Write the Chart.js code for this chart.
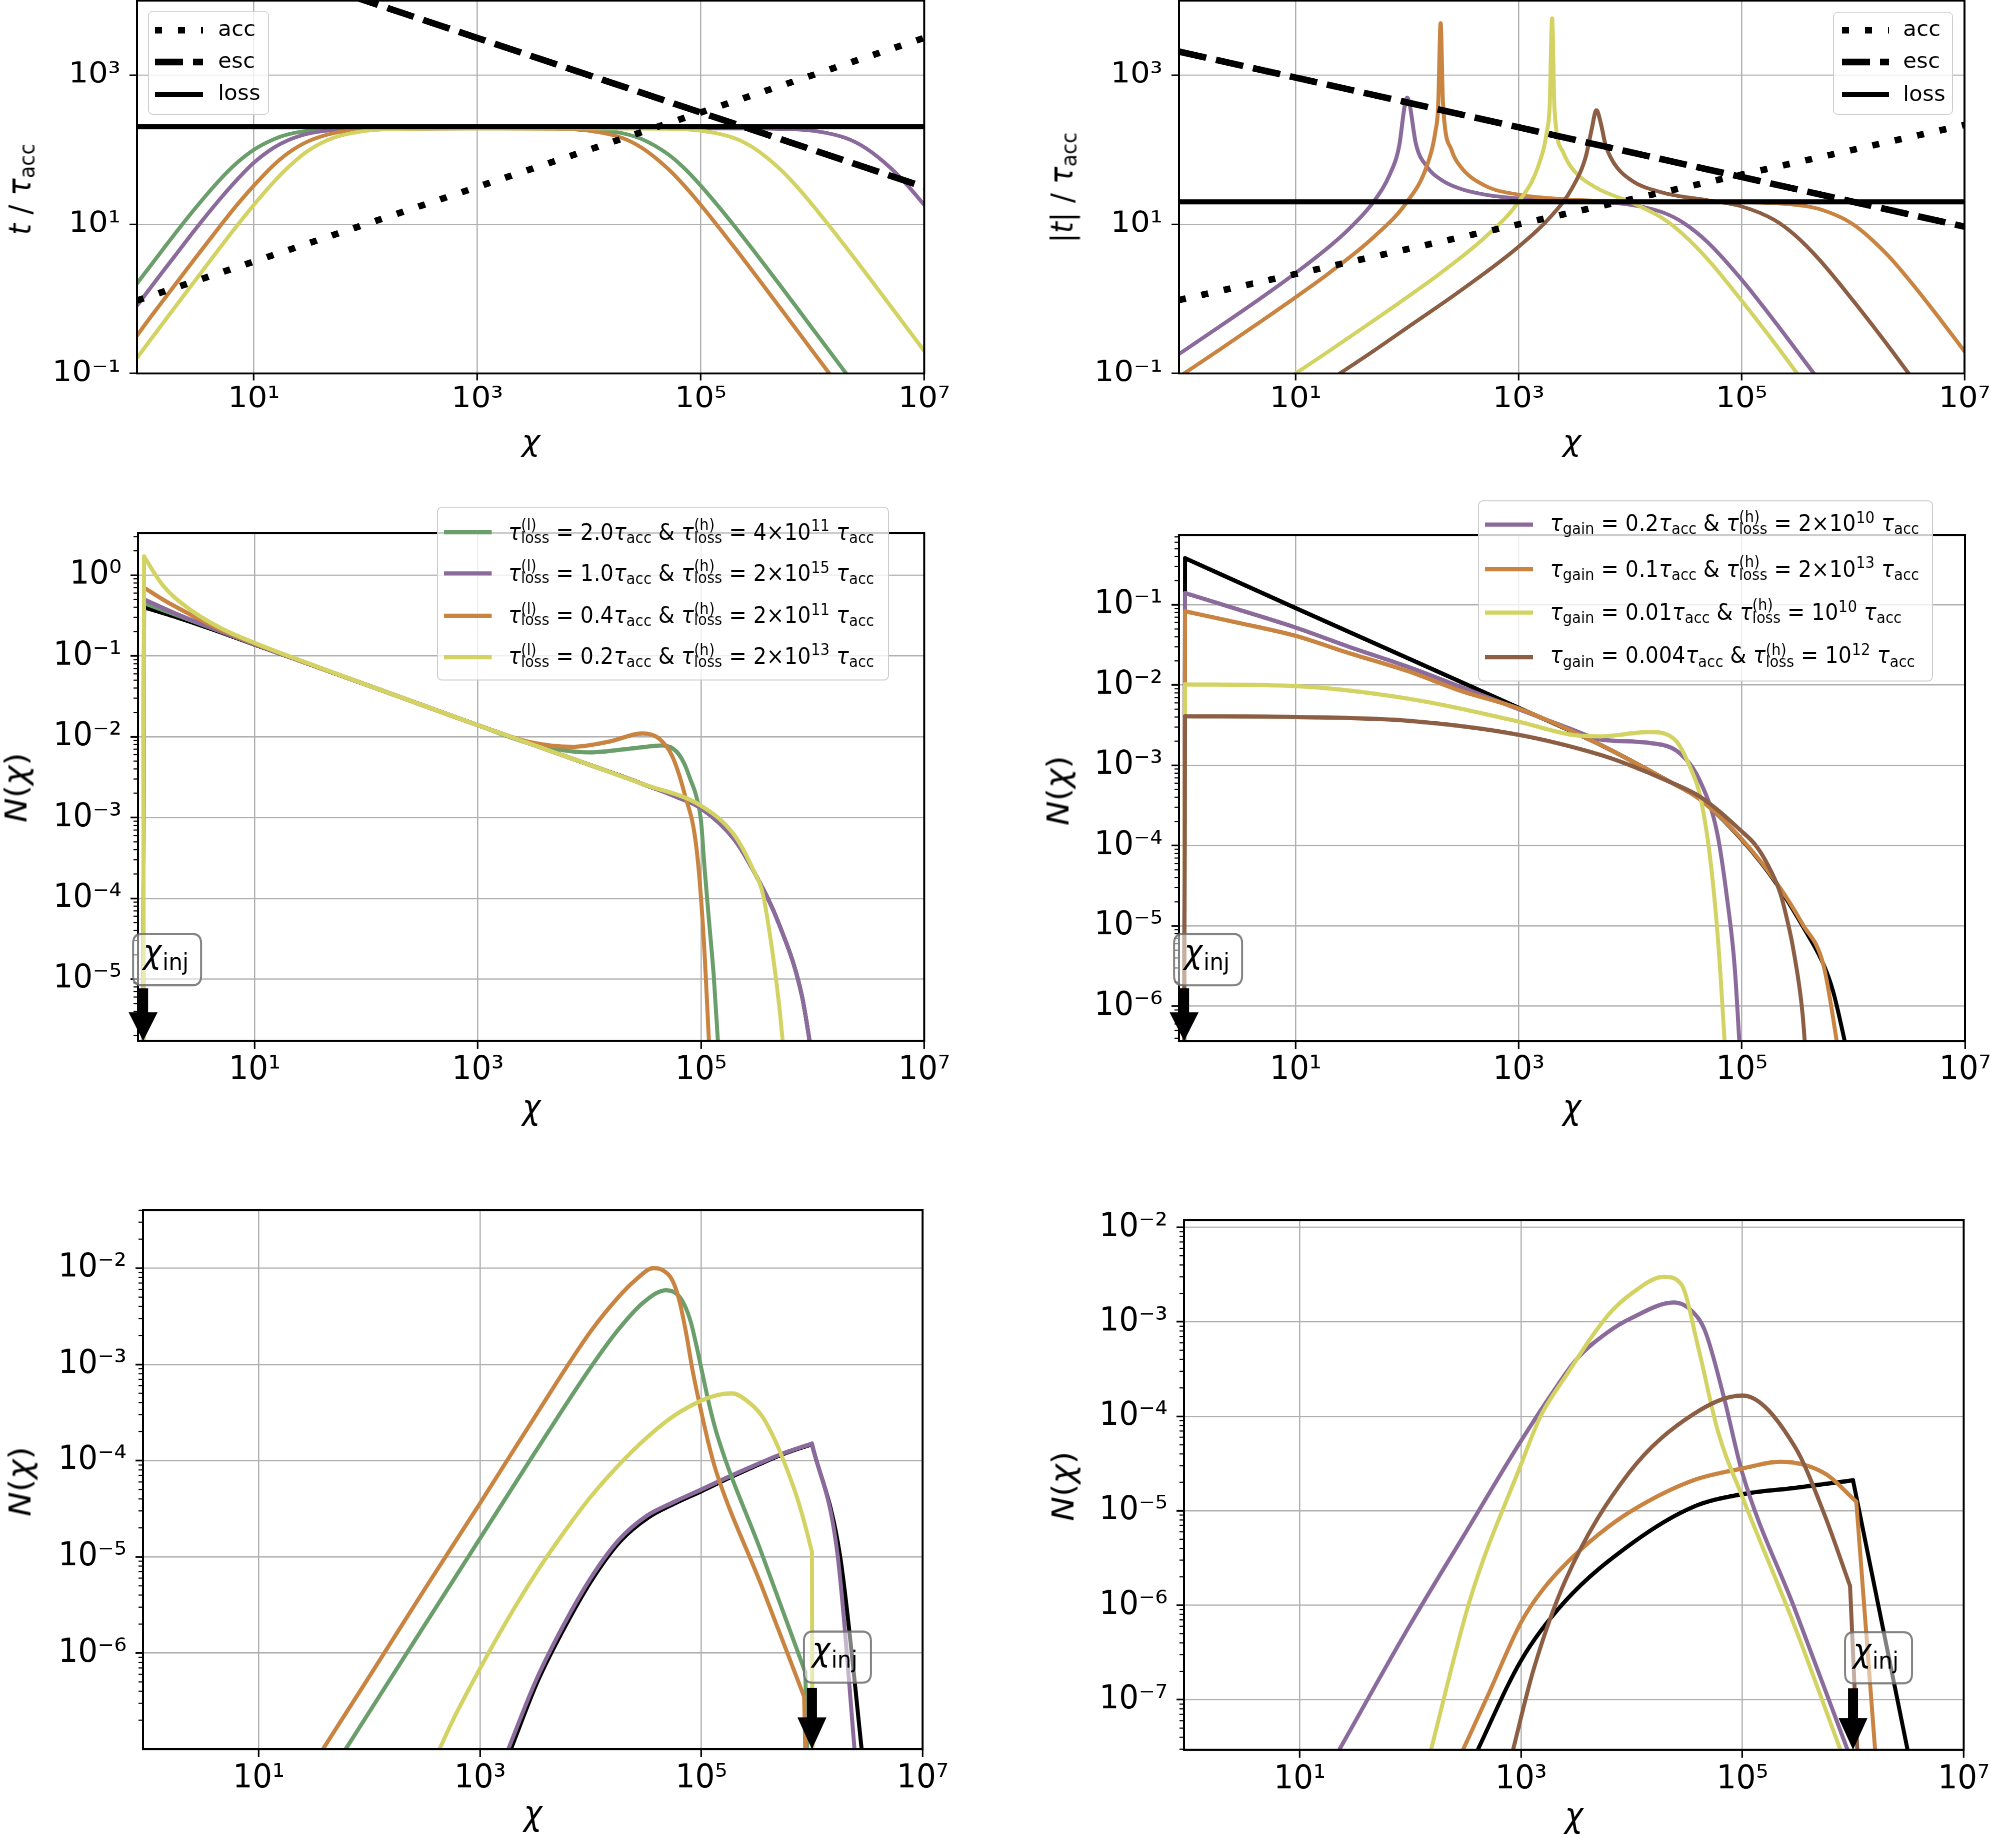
<!DOCTYPE html>
<html lang="en">
<head>
<meta charset="UTF-8">
<title>Timescales and spectra N(χ)</title>
<script src="https://cdn.jsdelivr.net/npm/chart.js@4"></script>
<style>
  html, body { margin: 0; padding: 0; background: #fff; }
  body { position: relative; width: 1991px; height: 1835px; overflow: hidden; font-family: "DejaVu Sans", sans-serif; color: #000; }
  .panel { position: absolute; transform-origin: 0 0; }
  .panel canvas { position: absolute; left: 0; top: 0; }
  .lbl { position: absolute; white-space: nowrap; line-height: 1; }
  .rot { transform: translate(-50%, -50%) rotate(-90deg); }
  .leg { position: absolute; box-sizing: border-box; background: rgba(255,255,255,0.8); border: 1.3px solid #cccccc; border-radius: 5px; }
  .sb { font-size: .7em; line-height: 0; vertical-align: -.2em; }
  .su { font-size: .7em; line-height: 0; vertical-align: .52em; }
  .ss { position: relative; display: inline-block; font-size: .7em; line-height: 0; vertical-align: -.2em; }
  .ss .sp { position: absolute; left: 0; top: -1.27em; line-height: 1; }
</style>
</head>
<body>
<script>
// ---- axes ----
const X_MIN = 0.9, X_MAX = 1e7;
const X_TICKS = [1e1, 1e3, 1e5, 1e7];
const TOP_Y_TICKS = [1e-1, 1e1, 1e3];
const C_Y_TICKS = [1e-5, 1e-4, 1e-3, 1e-2, 1e-1, 1];
const D_Y_TICKS = [1e-6, 1e-5, 1e-4, 1e-3, 1e-2, 1e-1];
const E_Y_TICKS = [1e-6, 1e-5, 1e-4, 1e-3, 1e-2];
const F_Y_TICKS = [1e-7, 1e-6, 1e-5, 1e-4, 1e-3, 1e-2];

// ---- panel a: t / tau_acc ----
const a_acc  = [[0.9, 0.95], [1e7, 3162]];
const a_esc  = [[0.9, 1.05e5], [1e7, 31.6]];
const a_loss = [[0.9, 204], [1e7, 204]];
const a_green  = [[0.9,1.61],[1,1.98],[1.5,4.4],[2,7.7],[3,16.5],[5,40],[7,66],[10,100],[15,138],[20,160],[30,179],[50,189],[100,192],[1e3,193],[5e3,192],[1e4,187],[2e4,166],[3e4,138],[5e4,89],[7e4,58],[1e5,33],[2e5,9.5],[5e5,1.6],[1e6,0.4],[2e6,0.1],[3e6,0.044]];
const a_purple = [[0.9,0.81],[1,1.0],[1.5,2.23],[2,3.9],[3,8.6],[5,22],[7,39],[10,67],[15,106],[20,133],[30,163],[50,183],[100,191],[1e3,193],[1e5,193],[3e5,192],[5e5,190],[1e6,180],[2e6,143],[3e6,105],[5e6,57],[7e6,34],[1e7,18.2]];
const a_orange = [[0.9,0.32],[1,0.4],[1.5,0.9],[2,1.59],[3,3.54],[5,9.5],[7,17.9],[10,33],[15,62],[20,89],[30,128],[50,165],[100,187],[200,191],[1e3,193],[5e3,191],[1e4,180],[2e4,143],[3e4,105],[5e4,57],[7e4,34],[1e5,18.2],[2e5,4.9],[5e5,0.8],[1e6,0.2],[1.5e6,0.089]];
const a_yellow = [[0.9,0.162],[1,0.2],[1.5,0.45],[2,0.8],[3,1.78],[5,4.9],[7,9.4],[10,18.2],[15,36.7],[20,57],[30,95],[50,142],[100,179],[200,190],[500,192],[1e4,193],[5e4,191],[1e5,180],[2e5,143],[3e5,105],[5e5,57],[7e5,34],[1e6,18.2],[2e6,4.9],[5e6,0.8],[1e7,0.2]];

// ---- panel b: |t| / tau_acc ----
const b_acc  = [[0.9, 0.965], [1e7, 215]];
const b_esc  = [[0.9, 2070], [1e7, 9.3]];
const b_loss = [[0.9, 20], [1e7, 20]];
const b_purple = [[0.9,0.182],[1,0.202],[2,0.408],[5,1.05],[10,2.22],[20,5],[30,8.6],[50,20],[70,46.7],[85,113],[95,380],[100,500],[105,420],[120,120],[150,60],[200,40],[300,30],[500,25],[1e3,22.2],[3e3,20.5],[1e4,18.3],[2e4,14.3],[3e4,10.5],[5e4,5.7],[1e5,1.82],[2e5,0.49],[4.5e5,0.098],[5e5,0.08]];
const b_orange = [[0.9,0.09],[1,0.1],[2,0.2],[5,0.51],[10,1.05],[20,2.22],[50,6.7],[100,20],[150,60],[180,180],[190,380],[200,5000],[210,420],[250,100],[300,60],[500,33],[1e3,25],[3e3,21.4],[1e4,20.4],[1e5,19.8],[3e5,18.3],[5e5,16],[1e6,10],[2e6,4],[3e6,2],[5e6,0.77],[1e7,0.198]];
const b_yellow = [[9,0.09],[10,0.1],[20,0.2],[50,0.51],[100,1.05],[200,2.22],[500,6.7],[1e3,20],[1.5e3,60],[1.8e3,180],[1.9e3,380],[2e3,5800],[2.1e3,355],[2.5e3,94],[3e3,57],[5e3,30.8],[1e4,20],[2e4,11.8],[3e4,7.3],[5e4,3.36],[1e5,0.95],[2e5,0.25],[3.2e5,0.097]];
const b_brown  = [[24,0.096],[50,0.2],[100,0.41],[300,1.28],[1e3,5],[2e3,13.3],[3e3,30],[4e3,80],[4.5e3,180],[5e3,340],[5.5e3,218],[6e3,119],[7e3,70],[1e4,40],[2e4,26.4],[5e4,21],[1e5,17.4],[2e5,11.3],[3e5,7.2],[5e5,3.34],[1e6,0.95],[2e6,0.25],[3.2e6,0.097]];

// ---- panel c: N(chi), injection at chi = 1 ----
const c_black  = [[1,1e-6],[1.02,0.4],[2,0.3],[5,0.195],[10,0.138],[100,0.044],[1e3,0.0139],[1e4,0.0045],[3e4,0.0026],[1e5,0.0013],[2e5,5.3e-4],[3e5,2.1e-4],[5e5,4.8e-5],[8e5,6.3e-6],[1e6,1e-6]];
const c_green  = [[1,1e-6],[1.02,0.45],[2,0.32],[5,0.2],[10,0.14],[100,0.044],[1e3,0.0139],[3e3,0.0082],[1e4,0.0064],[2.5e4,0.0072],[4.5e4,0.0078],[6e4,0.0066],[7.1e4,0.0046],[8e4,0.003],[9.1e4,0.0018],[1e5,9e-4],[1.08e5,2.2e-4],[1.2e5,4e-5],[1.3e5,1.1e-5],[1.45e5,1e-6]];
const c_purple = [[1,1e-6],[1.02,0.5],[2,0.33],[5,0.2],[10,0.139],[100,0.044],[1e3,0.0139],[1e4,0.0045],[3e4,0.0026],[6e4,0.0018],[1e5,0.0013],[2e5,5.3e-4],[3e5,2.1e-4],[5e5,4.8e-5],[8e5,6.3e-6],[1e6,1e-6]];
const c_orange = [[1,1e-6],[1.02,0.7],[1.5,0.5],[2.6,0.33],[5,0.21],[10,0.142],[100,0.044],[1e3,0.0139],[3e3,0.0085],[7e3,0.0075],[1.5e4,0.0087],[3e4,0.011],[4.2e4,0.0095],[5.5e4,0.0058],[7.1e4,0.002],[9.1e4,4.2e-4],[1.05e5,3.7e-5],[1.2e5,1e-6]];
const c_yellow = [[1,1e-6],[1.02,1.7],[1.5,0.75],[2.6,0.38],[5,0.22],[10,0.145],[20,0.1],[100,0.044],[1e3,0.0139],[1e4,0.0045],[3e4,0.0026],[1e5,0.0014],[2e5,6e-4],[2.96e5,2.2e-4],[3.6e5,1.1e-4],[4.4e5,2e-5],[5e5,4.9e-6],[5.6e5,1e-6]];

// ---- panel d: N(chi), gain models ----
const d_black  = [[1,1e-7],[1.02,0.38],[10,0.091],[100,0.0218],[1e3,0.0052],[5.4e3,1.8e-3],[2.1e4,6.6e-4],[4.3e4,3.7e-4],[1e5,1.18e-4],[2e5,3.5e-5],[3.5e5,1e-5],[5.4e5,3.3e-6],[6.6e5,1.5e-6],[9.2e5,2e-7]];
const d_purple = [[1,1e-7],[1.02,0.14],[3,0.088],[10,0.052],[30,0.03],[100,0.017],[300,0.0095],[1e3,0.005],[3e3,0.0028],[5.4e3,0.0021],[1.5e4,0.0019],[2.8e4,0.0014],[4.3e4,6e-4],[6e4,1.45e-4],[7.4e4,2.1e-5],[8.6e4,3.2e-6],[1e5,1e-7]];
const d_orange = [[1,1e-7],[1.02,0.083],[3,0.06],[10,0.041],[30,0.025],[100,0.015],[300,0.0085],[1e3,0.0051],[5.4e3,1.8e-3],[2.1e4,6.6e-4],[4.3e4,3.7e-4],[1e5,1.2e-4],[2e5,3.6e-5],[3.5e5,1.05e-5],[5.4e5,3.2e-6],[7.6e5,2e-7]];
const d_yellow = [[1,1e-7],[1.02,0.0102],[10,0.0097],[100,0.0068],[1e3,0.0035],[3e3,0.0024],[5.4e3,0.0023],[1.5e4,0.0026],[2.5e4,0.0021],[3.4e4,9.8e-4],[4.3e4,3.7e-4],[5.3e4,5.5e-5],[6.2e4,5.1e-6],[7.4e4,1e-7]];
const d_brown  = [[1,1e-7],[1.02,0.0041],[10,0.004],[100,0.0036],[1e3,0.0024],[5.4e3,1.35e-3],[1e4,1.0e-3],[2.1e4,6.5e-4],[4.3e4,4e-4],[1e5,1.5e-4],[1.3e5,1.05e-4],[1.66e5,6.2e-5],[2.2e5,2.6e-5],[2.6e5,1.05e-5],[2.9e5,5e-6],[3.5e5,8e-7],[3.9e5,1e-7]];

// ---- panel e: N(chi), injection at chi = 1e6 ----
const e_black  = [[1.9e3,1e-7],[3.3e3,5e-7],[5.9e3,1.9e-6],[1.05e4,6e-6],[1.85e4,1.45e-5],[3.3e4,2.55e-5],[5.8e4,3.6e-5],[1e5,4.8e-5],[1.78e5,6.6e-5],[3.16e5,8.9e-5],[5.62e5,1.18e-4],[1e6,1.48e-4],[1.8e6,1e-5],[3e6,5e-8]];
const e_green  = [[61,1e-7],[316,1.95e-6],[1e3,1.55e-5],[3.16e3,1.23e-4],[1e4,9.3e-4],[1.78e4,2.3e-3],[3e4,4.4e-3],[4.8e4,5.9e-3],[6e4,5.4e-3],[7e4,4.2e-3],[8e4,2.8e-3],[9e4,1.6e-3],[1e5,9.1e-4],[1.2e5,3.5e-4],[1.4e5,1.8e-4],[3.5e5,1.1e-5],[8.7e5,6.3e-7],[9.2e5,5e-8]];
const e_purple = [[1.8e3,1e-7],[3.16e3,5e-7],[5.62e3,1.9e-6],[1e4,6e-6],[1.78e4,1.48e-5],[3.16e4,2.63e-5],[5.62e4,3.7e-5],[1e5,5e-5],[1.78e5,6.8e-5],[3.16e5,9.1e-5],[5.62e5,1.2e-4],[1e6,1.5e-4],[1.7e6,1.07e-5],[2.55e6,5e-8]];
const e_orange = [[38,1e-7],[100,5.7e-7],[316,4.6e-6],[1e3,3.6e-5],[3.16e3,2.9e-4],[1e4,2.2e-3],[1.78e4,5e-3],[2.5e4,7.4e-3],[3.7e4,0.01],[4.5e4,9.5e-3],[5.5e4,7.4e-3],[6.3e4,4.7e-3],[7.3e4,2.1e-3],[8.3e4,8.9e-4],[1e5,3.2e-4],[1.2e5,1.3e-4],[1.4e5,7e-5],[3.5e5,5e-6],[8.5e5,3.5e-7],[8.8e5,5e-8]];
const e_yellow = [[430,1e-7],[562,1.95e-7],[1e3,6.9e-7],[1778,2.24e-6],[3162,6.6e-6],[5623,1.74e-5],[1e4,4.2e-5],[1.78e4,8.9e-5],[3.16e4,1.7e-4],[5.62e4,2.9e-4],[1e5,4.2e-4],[1.41e5,4.8e-4],[1.9e5,5e-4],[2.5e5,4.3e-4],[3.5e5,2.95e-4],[4.6e5,1.66e-4],[5.9e5,8.3e-5],[7.4e5,4e-5],[8.7e5,2.1e-5],[1e6,1.12e-5],[1.01e6,5e-8]];

// ---- panel f: N(chi), gain models, injection at chi = 1e6 ----
const f_black  = [[380,2.5e-8],[1e3,2.6e-7],[2.5e3,1.1e-6],[1e4,4.5e-6],[3.6e4,1.1e-5],[1e5,1.5e-5],[3e5,1.75e-5],[1e6,2.1e-5],[3.2e6,2.5e-8]];
const f_purple = [[21,2.5e-8],[100,6.3e-7],[316,5.9e-6],[1e3,5.5e-5],[2e3,1.9e-4],[3.16e3,4e-4],[6.2e3,7.9e-4],[1e4,1.1e-3],[2.4e4,1.6e-3],[3.5e4,1.3e-3],[4.6e4,8e-4],[6.8e4,1.6e-4],[1e5,2.5e-5],[3e5,8.9e-7],[9.4e5,2.5e-8]];
const f_orange = [[280,2.5e-8],[500,1.1e-7],[1e3,6.6e-7],[1.6e3,1.5e-6],[2.5e3,2.7e-6],[5e3,5.6e-6],[1e4,1e-5],[3.6e4,2.1e-5],[1e5,2.8e-5],[2.2e5,3.3e-5],[5.5e5,2.5e-5],[1.07e6,1.25e-5],[1.6e6,2.5e-8]];
const f_yellow = [[148,2.5e-8],[350,1.2e-6],[1e3,3.1e-5],[1.5e3,1e-4],[2.5e3,2.6e-4],[6.2e3,1.2e-3],[1e4,2e-3],[1.95e4,3e-3],[2.8e4,2.5e-3],[4e4,5.3e-4],[6e4,7e-5],[1e5,1.4e-5],[3e5,5.8e-7],[8.1e5,2.5e-8]];
const f_brown  = [[817,2.5e-8],[1.3e3,2.1e-7],[2.5e3,1.8e-6],[9.4e3,2.5e-5],[3.6e4,1.05e-4],[1e5,1.66e-4],[3e5,4.7e-5],[5.5e5,9.2e-6],[9.4e5,1.6e-6],[1.1e6,2.5e-8]];

// ---- styling ----
const FONT = '"DejaVu Sans", sans-serif';
const GREEN = '#6a9e6b', PURPLE = '#8b6b9b', ORANGE = '#c88440', YELLOW = '#d3d364', BROWN = '#8c5f45', BLACK = '#000000';
const DOTTED = [7, 16], DASHED = [28, 10];
const PAD = {l: 150, r: 45, t: 20, b: 75};
const SUP = {'-': '⁻', '0': '⁰', '1': '¹', '2': '²', '3': '³', '4': '⁴', '5': '⁵', '6': '⁶', '7': '⁷', '8': '⁸', '9': '⁹'};

function decadeLabel(v) {
  const e = Math.round(Math.log10(v));
  return '10' + String(e).split('').map(c => SUP[c]).join('');
}

// corners: x values where the curve has a kink (drawn as separate smooth pieces)
const mk = (pts, color, corners = [], width = 4, dash = []) => ({pts, color, corners, width, dash});

const TL = '<i>τ</i><span class="ss">loss<span class="sp">(l)</span></span>';
const TH = '<i>τ</i><span class="ss">loss<span class="sp">(h)</span></span>';
const TG = '<i>τ</i><span class="sb">gain</span>';
const TA = '<i>τ</i><span class="sb">acc</span>';
const NCHI = '<i>N</i>(<i>χ</i>)';

const INJ_MID = {x: 1, left: -10, right: 58, top: 101, bottom: 52.5, base: 73.5, tail: 49.7, head: 27};
const INJ_LOW = {x: 1e6, left: -8, right: 59, top: 111, bottom: 62.7, base: 83.3, tail: 58, head: 30};

const PANELS = [
  { box: [137.3, 0.5, 924.5, 373.3], s: 0.93, ymin: 0.1, ymax: 1e4, yticks: TOP_Y_TICKS, minor: false,
    series: [mk(a_green, GREEN), mk(a_purple, PURPLE), mk(a_orange, ORANGE), mk(a_yellow, YELLOW),
             mk(a_loss, BLACK, [], 5.4), mk(a_esc, BLACK, [], 7, DASHED), mk(a_acc, BLACK, [], 7, DOTTED)],
    ytitle: {html: '<i>t</i> / ' + TA, x: 20, y: 189}, xtitle: {x: 531, y: 450.8},
    legend: {box: [148, 11, 269, 115], ys: [30, 62, 94], hx: [155, 203], tx: 218, font: 22,
             rows: [{html: 'acc', color: BLACK, width: 7, dash: DOTTED}, {html: 'esc', color: BLACK, width: 7, dash: DASHED}, {html: 'loss', color: BLACK, width: 5.4, dash: []}]},
    inj: false },
  { box: [1179, 0.5, 1964.5, 373.3], s: 0.93, ymin: 0.1, ymax: 1e4, yticks: TOP_Y_TICKS, minor: false,
    series: [mk(b_purple, PURPLE), mk(b_orange, ORANGE), mk(b_yellow, YELLOW), mk(b_brown, BROWN),
             mk(b_loss, BLACK, [], 5.4), mk(b_esc, BLACK, [], 7, DASHED), mk(b_acc, BLACK, [], 7, DOTTED)],
    ytitle: {html: '|<i>t</i>| / ' + TA, x: 1062, y: 187}, xtitle: {x: 1572, y: 450.8},
    legend: {box: [1832.6, 11.7, 1953, 115], ys: [30, 62.3, 94.3], hx: [1842, 1889], tx: 1903, font: 22,
             rows: [{html: 'acc', color: BLACK, width: 7, dash: DOTTED}, {html: 'esc', color: BLACK, width: 7, dash: DASHED}, {html: 'loss', color: BLACK, width: 5.4, dash: []}]},
    inj: false },
  { box: [138.3, 533, 924.5, 1040.7], s: 1.06, ymin: 1.72e-6, ymax: 3.3, yticks: C_Y_TICKS, minor: true,
    series: [mk(c_black, BLACK, [1.02]), mk(c_green, GREEN, [1.02]), mk(c_purple, PURPLE, [1.02]), mk(c_orange, ORANGE, [1.02]), mk(c_yellow, YELLOW, [1.02])],
    ytitle: {html: NCHI, x: 16, y: 787}, xtitle: {x: 531.4, y: 1119},
    legend: {box: [436.7, 506.7, 889.3, 680.7], ys: [532.3, 573.3, 615.7, 656.7], hx: [444, 491.7], tx: 508.3, font: 21,
             rows: [
               {html: TL + ' = 2.0' + TA + ' &amp; ' + TH + ' = 4×10<span class="su">11</span> ' + TA, color: GREEN, width: 4, dash: []},
               {html: TL + ' = 1.0' + TA + ' &amp; ' + TH + ' = 2×10<span class="su">15</span> ' + TA, color: PURPLE, width: 4, dash: []},
               {html: TL + ' = 0.4' + TA + ' &amp; ' + TH + ' = 2×10<span class="su">11</span> ' + TA, color: ORANGE, width: 4, dash: []},
               {html: TL + ' = 0.2' + TA + ' &amp; ' + TH + ' = 2×10<span class="su">13</span> ' + TA, color: YELLOW, width: 4, dash: []}]},
    inj: INJ_MID },
  { box: [1179, 535, 1965, 1040.7], s: 1.06, ymin: 3.7e-7, ymax: 0.735, yticks: D_Y_TICKS, minor: true,
    series: [mk(d_black, BLACK, [1.02]), mk(d_purple, PURPLE, [1.02]), mk(d_orange, ORANGE, [1.02]), mk(d_yellow, YELLOW, [1.02]), mk(d_brown, BROWN, [1.02])],
    ytitle: {html: NCHI, x: 1058, y: 790}, xtitle: {x: 1572, y: 1119},
    legend: {box: [1478.3, 500, 1932.7, 681.7], ys: [524.3, 569, 612.7, 656.7], hx: [1485, 1533.3], tx: 1550, font: 21,
             rows: [
               {html: TG + ' = 0.2' + TA + ' &amp; ' + TH + ' = 2×10<span class="su">10</span> ' + TA, color: PURPLE, width: 4, dash: []},
               {html: TG + ' = 0.1' + TA + ' &amp; ' + TH + ' = 2×10<span class="su">13</span> ' + TA, color: ORANGE, width: 4, dash: []},
               {html: TG + ' = 0.01' + TA + ' &amp; ' + TH + ' = 10<span class="su">10</span> ' + TA, color: YELLOW, width: 4, dash: []},
               {html: TG + ' = 0.004' + TA + ' &amp; ' + TH + ' = 10<span class="su">12</span> ' + TA, color: BROWN, width: 4, dash: []}]},
    inj: INJ_MID },
  { box: [143.4, 1210, 923, 1749], s: 1.06, ymin: 1e-7, ymax: 0.04, yticks: E_Y_TICKS, minor: true,
    series: [mk(e_black, BLACK, [1e6]), mk(e_purple, PURPLE, [1e6]), mk(e_green, GREEN, [8.7e5]), mk(e_orange, ORANGE, [8.5e5]), mk(e_yellow, YELLOW, [1e6])],
    ytitle: {html: NCHI, x: 20, y: 1481}, xtitle: {x: 533, y: 1824.6},
    legend: null, inj: INJ_LOW },
  { box: [1184.3, 1219.7, 1964, 1749.3], s: 1.06, ymin: 2.95e-8, ymax: 0.0119, yticks: F_Y_TICKS, minor: true,
    series: [mk(f_black, BLACK, [1e6]), mk(f_purple, PURPLE), mk(f_orange, ORANGE, [1.07e6]), mk(f_yellow, YELLOW), mk(f_brown, BROWN, [9.4e5])],
    ytitle: {html: NCHI, x: 1063, y: 1486}, xtitle: {x: 1574, y: 1826.6},
    legend: null, inj: INJ_LOW }
];

// spines on all four sides (drawn over the curves) and minor y ticks
const framePlugin = {
  id: 'frame',
  afterDatasetsDraw(chart, args, opts) {
    const {ctx, chartArea: a, scales: {y}} = chart;
    ctx.save();
    if (opts.minor) {
      ctx.strokeStyle = '#000';
      ctx.lineWidth = 1.1;
      const lo = Math.floor(Math.log10(y.min)), hi = Math.ceil(Math.log10(y.max));
      for (let e = lo; e < hi; e++) {
        for (let m = 2; m < 10; m++) {
          const v = m * Math.pow(10, e);
          if (v < y.min || v > y.max) continue;
          const py = y.getPixelForValue(v);
          ctx.beginPath(); ctx.moveTo(a.left - 4.5, py); ctx.lineTo(a.left, py); ctx.stroke();
        }
      }
    }
    ctx.strokeStyle = '#000';
    ctx.lineWidth = 2;
    ctx.strokeRect(a.left, a.top, a.right - a.left, a.bottom - a.top);
    ctx.restore();
  }
};

// chi_inj label box + arrow pointing at the injection energy on the x axis
const injPlugin = {
  id: 'inj',
  afterDatasetsDraw(chart, args, o) {
    if (!o || o.x === undefined) return;
    const {ctx, chartArea: a, scales: {x}} = chart;
    const px = x.getPixelForValue(o.x), b = a.bottom;
    ctx.save();
    const x0 = px + o.left, x1 = px + o.right, y0 = b - o.top, y1 = b - o.bottom, r = 9;
    ctx.beginPath();
    ctx.moveTo(x0 + r, y0); ctx.lineTo(x1 - r, y0); ctx.quadraticCurveTo(x1, y0, x1, y0 + r);
    ctx.lineTo(x1, y1 - r); ctx.quadraticCurveTo(x1, y1, x1 - r, y1);
    ctx.lineTo(x0 + r, y1); ctx.quadraticCurveTo(x0, y1, x0, y1 - r);
    ctx.lineTo(x0, y0 + r); ctx.quadraticCurveTo(x0, y0, x0 + r, y0);
    ctx.closePath();
    ctx.fillStyle = 'rgba(255,255,255,0.5)';
    ctx.fill();
    ctx.strokeStyle = 'rgba(110,110,110,0.85)';
    ctx.lineWidth = 2;
    ctx.stroke();
    ctx.fillStyle = '#000';
    ctx.textAlign = 'left';
    ctx.textBaseline = 'alphabetic';
    ctx.font = 'italic 31px ' + FONT;
    ctx.fillText('χ', px, b - o.base);
    const w = ctx.measureText('χ').width;
    ctx.font = '22px ' + FONT;
    ctx.fillText('inj', px + w + 1, b - o.base + 6.5);
    ctx.beginPath();
    ctx.moveTo(px - 5, b - o.tail); ctx.lineTo(px + 5, b - o.tail); ctx.lineTo(px + 5, b - o.head);
    ctx.lineTo(px + 14.5, b - o.head); ctx.lineTo(px, b); ctx.lineTo(px - 14.5, b - o.head);
    ctx.lineTo(px - 5, b - o.head); ctx.closePath();
    ctx.fill();
    ctx.restore();
  }
};

function logAxis(min, max, ticks, horizontal, size) {
  return {
    type: 'logarithmic', min, max,
    afterBuildTicks: sc => { sc.ticks = ticks.map(v => ({value: v})); },
    afterFit: sc => {
      if (horizontal) sc.height = size; else sc.width = size;
      sc.paddingLeft = sc.paddingRight = sc.paddingTop = sc.paddingBottom = 0;
    },
    ticks: {callback: v => decadeLabel(v), font: {family: FONT, size: 31}, color: '#000',
            padding: horizontal ? 2 : 9, autoSkip: false, maxRotation: 0, minRotation: 0},
    grid: {color: '#b0b0b0', lineWidth: 1.3, tickColor: '#000', tickLength: 7.5, tickWidth: 1.6},
    border: {display: false}
  };
}

function el(tag, cls, parent) {
  const e = document.createElement(tag);
  if (cls) e.className = cls;
  parent.appendChild(e);
  return e;
}

// split a series at its corner points so each piece is interpolated on its own
function pieces(pts, corners) {
  const cut = corners.map(cx => pts.findIndex(p => p[0] === cx)).filter(i => i > 0 && i < pts.length - 1);
  const idx = [0, ...cut, pts.length - 1];
  const out = [];
  for (let k = 0; k < idx.length - 1; k++) out.push(pts.slice(idx[k], idx[k + 1] + 1));
  return out;
}

function drawLegend(wrap, L, ix, iy) {
  const [bx0, by0, bx1, by1] = L.box;
  const box = el('div', 'leg', wrap);
  Object.assign(box.style, {left: ix(bx0) + 'px', top: iy(by0) + 'px', width: (bx1 - bx0) + 'px', height: (iy(by1) - iy(by0)) + 'px'});
  const NS = 'http://www.w3.org/2000/svg';
  L.rows.forEach((r, i) => {
    const yc = iy(L.ys[i]);
    const hw = L.hx[1] - L.hx[0];
    const svg = document.createElementNS(NS, 'svg');
    svg.setAttribute('width', hw); svg.setAttribute('height', 14);
    Object.assign(svg.style, {position: 'absolute', left: ix(L.hx[0]) + 'px', top: (yc - 7) + 'px'});
    const ln = document.createElementNS(NS, 'line');
    ln.setAttribute('x1', 0); ln.setAttribute('y1', 7); ln.setAttribute('x2', hw); ln.setAttribute('y2', 7);
    ln.setAttribute('stroke', r.color); ln.setAttribute('stroke-width', r.width);
    if (r.dash.length) ln.setAttribute('stroke-dasharray', r.dash.join(' '));
    svg.appendChild(ln);
    wrap.appendChild(svg);
    const t = el('div', 'lbl', wrap);
    t.innerHTML = r.html;
    t.style.fontSize = L.font + 'px';
    t.style.left = ix(L.tx) + 'px';
    t.style.top = (yc + 7.3 - 0.846 * L.font) + 'px';
  });
}

function makePanel(p) {
  const [x0, y0, x1, y1] = p.box, s = p.s;
  const W = Math.round(x1 - x0 + PAD.l + PAD.r);
  const H = Math.round((y1 - y0) / s + PAD.t + PAD.b);
  const padR = W - PAD.l - (x1 - x0);
  const padB = H - PAD.t - (y1 - y0) / s;
  const wx = x0 - PAD.l, wy = y0 - PAD.t * s;
  const ix = X => X - wx, iy = Y => (Y - wy) / s;

  const wrap = el('div', 'panel', document.body);
  Object.assign(wrap.style, {left: wx + 'px', top: wy + 'px', width: W + 'px', height: H + 'px', transform: `scale(1, ${s})`});
  const cv = el('canvas', '', wrap);
  cv.width = W; cv.height = H;
  cv.style.width = W + 'px'; cv.style.height = H + 'px';

  const n = p.series.length;
  const datasets = [];
  p.series.forEach((d, i) => {
    const solid = d.dash.length === 0;
    pieces(d.pts, d.corners).forEach(part => datasets.push({
      data: part.map(([x, y]) => ({x, y})),
      borderColor: d.color, borderWidth: d.width, borderDash: d.dash,
      borderCapStyle: solid ? 'round' : 'butt', borderJoinStyle: 'round',
      pointRadius: 0, fill: false, clip: 0, tension: 0,
      cubicInterpolationMode: 'monotone', capBezierPoints: false,
      order: n - i
    }));
  });

  new Chart(cv, {
    type: 'line',
    data: {datasets},
    options: {
      responsive: false, animation: false, devicePixelRatio: 2, events: [],
      layout: {padding: {left: 0, top: PAD.t, right: padR, bottom: 0}},
      plugins: {legend: {display: false}, tooltip: {enabled: false}, frame: {minor: p.minor}, inj: p.inj},
      scales: {
        x: logAxis(X_MIN, X_MAX, X_TICKS, true, padB),
        y: logAxis(p.ymin, p.ymax, p.yticks, false, PAD.l)
      }
    },
    plugins: [framePlugin, injPlugin]
  });

  const yt = el('div', 'lbl rot', wrap);
  yt.innerHTML = p.ytitle.html;
  yt.style.fontSize = '31px';
  yt.style.left = ix(p.ytitle.x) + 'px';
  yt.style.top = iy(p.ytitle.y) + 'px';

  const xt = el('div', 'lbl', wrap);
  xt.innerHTML = '<i>χ</i>';
  xt.style.fontSize = '31px';
  xt.style.left = ix(p.xtitle.x) + 'px';
  xt.style.top = (iy(p.xtitle.y) - 0.846 * 31) + 'px';
  xt.style.transform = 'translateX(-50%)';

  if (p.legend) drawLegend(wrap, p.legend, ix, iy);
}

PANELS.forEach(makePanel);
</script>
</body>
</html>
